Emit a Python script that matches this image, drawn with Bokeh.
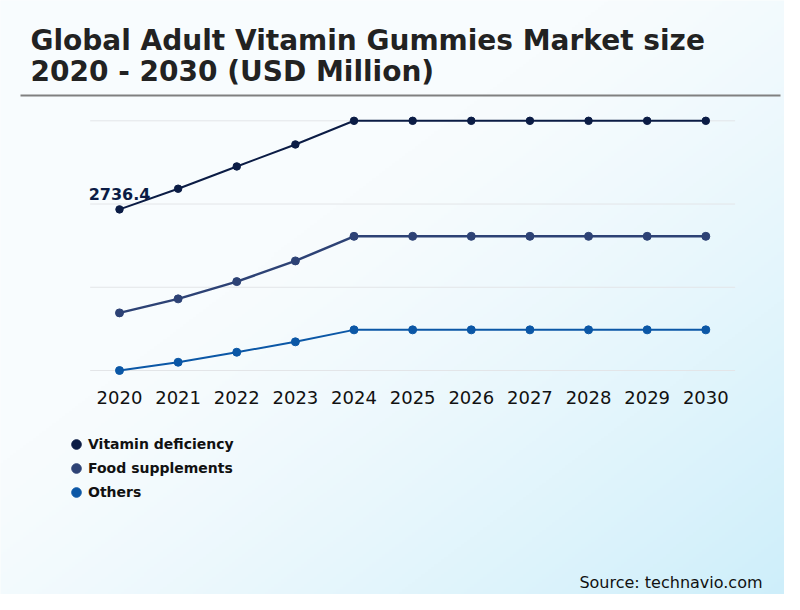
import numpy as np
from bokeh.plotting import figure
from bokeh.models import (ColumnDataSource, Label, LabelSet, BoxAnnotation,
                          Legend, LegendItem, Range1d)
from bokeh.core.properties import value
from bokeh.embed import file_html
from bokeh.resources import INLINE

# ---- data ----
years = [2020, 2021, 2022, 2023, 2024, 2025, 2026, 2027, 2028, 2029, 2030]
vitamin_deficiency = [2736.4, 2959, 3199, 3436, 3691, 3691, 3691, 3691, 3691, 3691, 3691]
food_supplements = [1621, 1772, 1958, 2181, 2446, 2446, 2446, 2446, 2446, 2446, 2446]
others = [1000, 1089, 1197, 1309, 1438, 1438, 1438, 1438, 1438, 1438, 1438]
series_names = ["Vitamin deficiency", "Food supplements", "Others"]
series_colors = ["#0b1c45", "#2d4275", "#0b57a6"]
year_labels = [str(y) for y in years]
title_lines = ["Global Adult Vitamin Gummies Market size", "2020 - 2030 (USD Million)"]
source_text = "Source: technavio.com"

# ---- layout (canvas pixels) ----
W, H = 784, 594
x_first_px, px_per_year = 119.0, 58.63
y_top_px, y_bot_px = 120.3, 370.0

all_vals = vitamin_deficiency + food_supplements + others
ymin, ymax = min(all_vals), max(all_vals)
ppu = (y_bot_px - y_top_px) / (ymax - ymin)
x_start = years[0] - x_first_px / px_per_year
x_end = x_start + W / px_per_year
y_end = ymax + y_top_px / ppu
y_start = ymin - (H - y_bot_px) / ppu

p = figure(width=W, height=H, output_backend="svg", toolbar_location=None,
           x_range=Range1d(x_start, x_end), y_range=Range1d(y_start, y_end),
           x_axis_location=None, y_axis_location=None, min_border=0,
           background_fill_color="#f7fbfe", border_fill_color="#f7fbfe")
p.outline_line_color = None
p.xgrid.visible = False
p.ygrid.visible = False

# ---- background gradient ----
N = 240
img = np.empty((N, N), dtype=np.uint32)
view = img.view(dtype=np.uint8).reshape((N, N, 4))
cols = np.arange(N) / (N - 1)
rows = np.arange(N) / (N - 1)
u = (cols * W) / 800.0
v = ((1 - rows) * H) / 610.0
U, V = np.meshgrid(u, v)
t = (U + V) / 2.0
s = np.clip((t - 0.38) / 0.62, 0, 1) ** 1.25
c0 = np.array([248, 252, 254], dtype=float)
c1 = np.array([204, 238, 250], dtype=float)
for k in range(3):
    view[:, :, k] = (c0[k] + (c1[k] - c0[k]) * s).astype(np.uint8)
view[:, :, 3] = 255
p.image_rgba(image=[img], x=x_start, y=y_start, dw=x_end - x_start,
             dh=y_end - y_start, level="image")

# ---- gridlines ----
grid_vals = [ymin + k * (ymax - ymin) / 3 for k in range(4)]
p.segment(x0=[years[0] - 0.5] * 4, x1=[years[-1] + 0.5] * 4, y0=grid_vals, y1=grid_vals,
          line_color="#e3e5e8", line_width=1)

# ---- series ----
items = []
for name, vals, col, lw, sz in zip(series_names,
                                    [vitamin_deficiency, food_supplements, others],
                                    series_colors, [2, 2.5, 2], [7.5, 8, 8]):
    p.line(years, vals, line_color=col, line_width=lw)
    r = p.scatter(years, vals, size=sz, fill_color=col, line_color=col)
    items.append(LegendItem(label=name, renderers=[r]))

legend = Legend(items=items, location=(64, 90), orientation="vertical",
                glyph_width=24, glyph_height=24, label_height=24, label_standoff=0,
                spacing=0, padding=0, margin=0, border_line_color=None,
                background_fill_alpha=0, label_text_font="DejaVu Sans",
                label_text_font_style="bold", label_text_font_size="14px",
                label_text_color="#111111")
p.add_layout(legend, "center")

# ---- first value label ----
p.add_layout(Label(x=years[0], y=vitamin_deficiency[0], text=f"{vitamin_deficiency[0]}",
                   text_align="center", text_baseline="middle", y_offset=15.5,
                   text_font="DejaVu Sans", text_font_style="bold",
                   text_font_size="16px", text_color=series_colors[0]))

# ---- x tick labels ----
tick_src = ColumnDataSource(dict(x=years, y=[197] * len(years), t=year_labels))
p.add_layout(LabelSet(x="x", y="y", text="t", source=tick_src, y_units="screen",
                      text_align="center", text_baseline="middle",
                      text_font=value("DejaVu Sans"), text_font_size="18px",
                      text_color="#111111"))

# ---- title ----
for i, line in enumerate(title_lines):
    p.add_layout(Label(x=30, y=554.5 - 31.5 * i, x_units="screen", y_units="screen",
                       text=line, text_baseline="middle", text_font="DejaVu Sans",
                       text_font_style="bold", text_font_size="28px",
                       text_color="#222222"))

p.add_layout(BoxAnnotation(left=20, right=780, bottom=498, top=500,
                           left_units="screen", right_units="screen",
                           bottom_units="screen", top_units="screen",
                           fill_color="#808080", fill_alpha=1, line_color=None,
                           level="overlay"))

p.add_layout(Label(x=762, y=12, x_units="screen", y_units="screen", text=source_text,
                   text_align="right", text_baseline="middle",
                   text_font="DejaVu Sans", text_font_size="16px",
                   text_color="#111111"))

open("out.html", "w").write(file_html(p, INLINE))
